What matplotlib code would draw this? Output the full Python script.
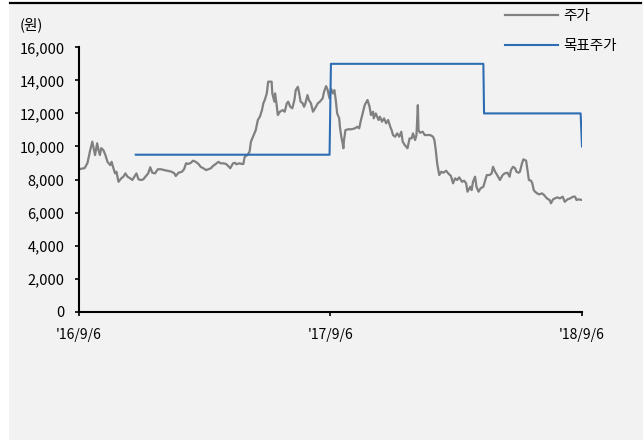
import numpy as np
import pandas as pd
import matplotlib
matplotlib.use('agg')
import matplotlib.pyplot as plt
import matplotlib.dates as mdates
from matplotlib.patches import Rectangle
from matplotlib.lines import Line2D

plt.rcParams['font.family'] = ['Noto Sans CJK KR', 'DejaVu Sans']

# price (주가): days after 2016-09-06, value in won
price_day = [0, 4, 9, 13, 17, 20, 22, 24, 27, 29, 31, 33, 36, 39, 42, 46, 48, 50, 53, 55,
             58, 62, 65, 68, 71, 75, 78, 81, 84, 87, 91, 94, 97, 101, 104, 107, 111, 115, 120, 124,
             129, 135, 139, 141, 145, 150, 153, 156, 159, 163, 166, 170, 174, 177, 181, 185, 188, 192, 195, 199,
             203, 206, 210, 214, 217, 220, 224, 227, 229, 233, 237, 239, 241, 245, 248, 250, 253, 257, 260, 263,
             266, 268, 270, 273, 275, 278, 280, 281, 284, 285, 287, 289, 292, 296, 299, 302, 304, 307, 310, 313,
             315, 318, 320, 322, 325, 327, 329, 332, 334, 337, 340, 343, 347, 350, 354, 356, 359, 361, 364, 366,
             369, 371, 373, 375, 378, 379, 381, 383, 384, 385, 387, 391, 396, 401, 404, 407, 409, 412, 415, 419,
             422, 424, 427, 428, 431, 435, 437, 440, 443, 446, 449, 452, 454, 456, 459, 462, 465, 468, 470, 473,
             477, 480, 483, 485, 488, 490, 492, 493, 495, 499, 502, 506, 510, 514, 516, 518, 520, 523, 526, 529,
             533, 536, 540, 543, 546, 549, 552, 556, 559, 562, 564, 568, 570, 572, 575, 577, 580, 583, 587, 589,
             592, 596, 599, 601, 604, 607, 611, 615, 618, 622, 625, 627, 630, 633, 635, 638, 640, 643, 645, 649,
             651, 653, 656, 658, 660, 662, 665, 668, 672, 675, 679, 683, 685, 688, 691, 694, 698, 702, 705, 709,
             713, 717, 720, 722, 725, 730]
price = [8600, 8650, 8690, 9000, 9780, 10290, 9900, 9480, 10190, 9780, 9480, 9900, 9780, 9480, 9070, 8870, 9070, 8770, 8370, 8470,
         7860, 8070, 8170, 8370, 8170, 8070, 7970, 8170, 8370, 8010, 7970, 8010, 8170, 8370, 8740, 8410, 8370, 8620, 8620, 8570,
         8530, 8470, 8370, 8210, 8410, 8470, 8620, 8980, 8940, 9010, 9140, 9070, 8940, 8770, 8680, 8570, 8620, 8680, 8820, 8940,
         9070, 8980, 8980, 8940, 8820, 8680, 8980, 9010, 8920, 8980, 8940, 8940, 9380, 9480, 9680, 10290, 10590, 10990, 11600, 11800,
         12200, 12610, 12810, 13210, 13920, 13920, 13920, 13210, 12710, 13210, 12610, 11900, 12100, 12200, 12100, 12610, 12710, 12400, 12310, 12810,
         13410, 13610, 13210, 12710, 12610, 12400, 12610, 13110, 12810, 12610, 12100, 12310, 12610, 12710, 12910, 13310, 13650, 13450, 12900, 13500,
         13210, 13410, 12810, 12000, 11700, 11190, 10590, 10190, 9890, 10390, 10990, 11040, 11040, 11100, 11190, 11100, 11500, 12000, 12510, 12810,
         12400, 11900, 12100, 11700, 12000, 11600, 11800, 11500, 11700, 11400, 11600, 11190, 10990, 10690, 10590, 10790, 10590, 10890, 10290, 10090,
         9890, 10490, 10490, 10790, 10390, 10690, 12500, 10990, 10830, 10890, 10690, 10690, 10690, 10590, 10390, 9780, 8980, 8270, 8470, 8410,
         8530, 8370, 8210, 7770, 8070, 7970, 8130, 7860, 7930, 7770, 7260, 7560, 7360, 7860, 8170, 7560, 7260, 7470, 7560, 7860,
         8270, 8270, 8370, 8770, 8470, 8270, 7970, 8270, 8370, 8410, 8170, 8570, 8770, 8680, 8470, 8410, 8470, 8980, 9220, 9140,
         8570, 7970, 7930, 7770, 7360, 7260, 7160, 7100, 7160, 7060, 6860, 6760, 6560, 6800, 6860, 6920, 6860, 6960, 6650, 6800,
         6860, 6960, 6960, 6760, 6800, 6760]

# target price (목표주가)
target_date = ['2016-11-28', '2017-09-05', '2017-09-07', '2018-04-16', '2018-04-17', '2018-09-04', '2018-09-06']
target = [9500, 9500, 15000, 15000, 12000, 12000, 10000]

xtick_date = ['2016-09-06', '2017-09-06', '2018-09-06']
xtick_label = ["'16/9/6", "'17/9/6", "'18/9/6"]
yticks = [0, 2000, 4000, 6000, 8000, 10000, 12000, 14000, 16000]

base = pd.Timestamp('2016-09-06')
price_dates = base + pd.to_timedelta(price_day, unit='D')
target_dates = pd.to_datetime(target_date)

fig = plt.figure(figsize=(6.43, 4.41), dpi=100, facecolor='white')
fig.patches.append(Rectangle((9 / 643, 1 / 441), 634 / 643, 436 / 441, transform=fig.transFigure,
                             facecolor='#f2f2f2', edgecolor='none', zorder=-10))
fig.lines.append(Line2D([10 / 643, 641 / 643], [438 / 441, 438 / 441], transform=fig.transFigure,
                        color='black', lw=1.6))

ax = fig.add_axes([78.5 / 643, 1 - 311.7 / 441, (582 - 78.5) / 643, (311.7 - 47.3) / 441])
ax.patch.set_visible(False)

ax.plot(price_dates, price, color='#808080', lw=1.6, label='주가')
ax.plot(target_dates, target, color='#2e6db4', lw=1.5, label='목표주가')

ax.set_xlim(pd.Timestamp(xtick_date[0]), pd.Timestamp(xtick_date[-1]))
ax.set_ylim(0, 16000)
ax.set_xticks(pd.to_datetime(xtick_date))
ax.set_xticklabels(xtick_label, fontsize=10)
ax.set_yticks(yticks)
ax.set_yticklabels([f'{v:,}' for v in yticks], fontsize=10.5)

for s in ['top', 'right']:
    ax.spines[s].set_visible(False)
for s in ['left', 'bottom']:
    ax.spines[s].set_linewidth(1.5)
ax.tick_params(axis='y', direction='out', length=3, width=1.2, pad=7)
ax.tick_params(axis='x', direction='out', length=3, width=1.2, pad=9)

fig.text(20 / 643, 1 - 25 / 441, '(원)', fontsize=10.5, va='center', ha='left')

ax.legend(loc='upper left', bbox_to_anchor=(505 / 643, 1 - 9 / 441), bbox_transform=fig.transFigure,
          frameon=False, fontsize=10.5, handlelength=3.6, handletextpad=0.4, labelspacing=1.1,
          borderpad=0, borderaxespad=0)

fig.savefig('out.png', dpi=100)
